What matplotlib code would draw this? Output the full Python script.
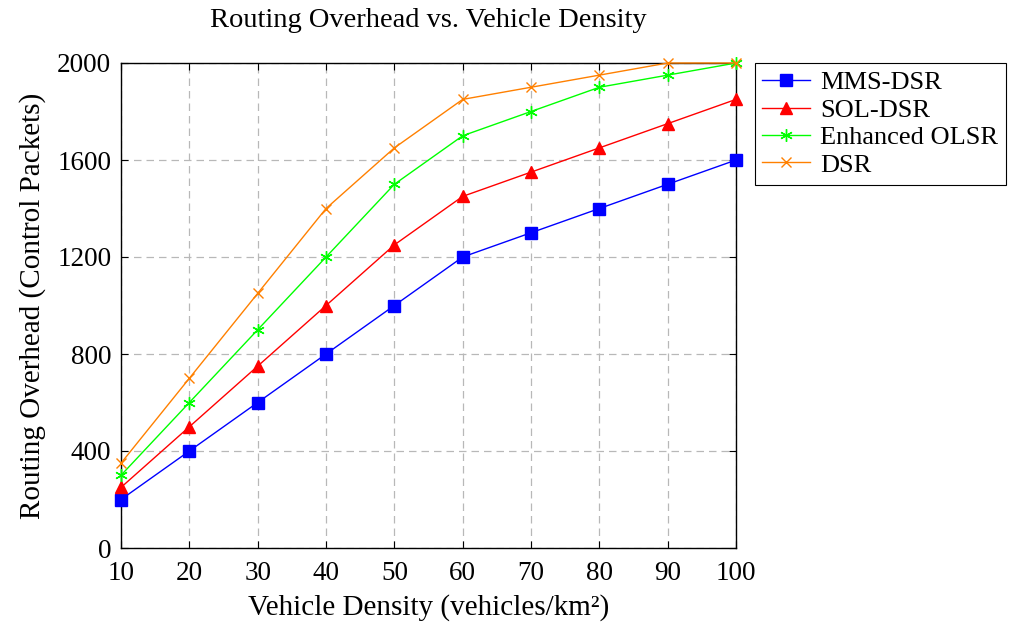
import numpy as np
import matplotlib
matplotlib.use("Agg")
from matplotlib import pyplot as plt

density = [10, 20, 30, 40, 50, 60, 70, 80, 90, 100]
mms_dsr = [200, 400, 600, 800, 1000, 1200, 1300, 1400, 1500, 1600]
sol_dsr = [250, 500, 750, 1000, 1250, 1450, 1550, 1650, 1750, 1850]
enh_olsr = [300, 600, 900, 1200, 1500, 1700, 1800, 1900, 1950, 2000]
dsr = [350, 700, 1050, 1400, 1650, 1850, 1900, 1950, 2000, 2000]

plt.rcParams["font.family"] = ["Liberation Serif", "DejaVu Serif"]

fig = plt.figure(figsize=(10.24, 6.25), dpi=100)
ax = fig.add_axes([0.1182, 0.1232, 0.6006, 0.776])

ax.plot(density, mms_dsr, color="blue", marker="s", markersize=8, lw=1, label="MMS-DSR", clip_on=False, zorder=3)
ax.plot(density, sol_dsr, color="red", marker="^", markersize=8, lw=1, label="SOL-DSR", clip_on=False, zorder=3)
ax.plot(density, enh_olsr, color=(0, 1, 0), marker=(6, 2, 0), markersize=9, mew=1, lw=1,
        label="Enhanced OLSR", clip_on=False, zorder=3)
ax.plot(density, dsr, color=(1, 0.5, 0), marker="x", markersize=7, mew=1, lw=1, label="DSR",
        clip_on=False, zorder=3)

ax.set_xlim(10, 100)
ax.set_ylim(0, 2000)
ax.set_xticks(density)
ax.set_yticks([0, 400, 800, 1200, 1600, 2000])
ax.grid(True, linestyle=(0, (6, 4)), color="#b8b8b8", lw=0.9)
ax.tick_params(direction="in", labelsize=19.5, length=5, top=True, right=True)
ax.tick_params(axis="x", pad=9)
ax.tick_params(axis="y", pad=7)
for s in ax.spines.values():
    s.set_linewidth(1)

ax.set_xlabel("Vehicle Density (vehicles/km²)", fontsize=21, labelpad=6)
ax.set_ylabel("Routing Overhead (Control Packets)", fontsize=21, labelpad=8)
ax.set_title("Routing Overhead vs. Vehicle Density", fontsize=20.5, pad=26)

leg = ax.legend(loc="upper left", bbox_to_anchor=(1.03, 1.0), fontsize=19,
                frameon=True, fancybox=False, edgecolor="black", framealpha=1,
                borderpad=0.3, labelspacing=0.15, handlelength=1.8, handletextpad=0.4,
                borderaxespad=0)
leg.get_frame().set_linewidth(0.8)

fig.savefig("out.png", dpi=100)
